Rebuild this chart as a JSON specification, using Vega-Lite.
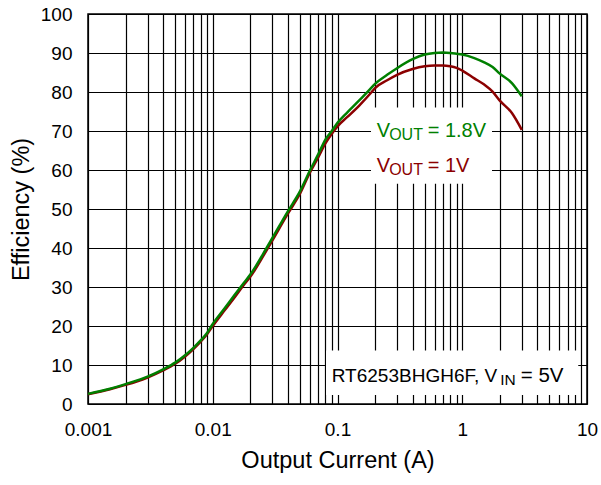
{
  "$schema": "https://vega.github.io/schema/vega-lite/v6.json",
  "width": 499,
  "height": 390,
  "autosize": "none",
  "padding": {"left": 88, "top": 14, "right": 14, "bottom": 81},
  "background": "white",
  "config": {
    "font": "Liberation Sans",
    "view": {"stroke": "black", "strokeWidth": 1.5},
    "axis": {
      "grid": true,
      "gridColor": "black",
      "gridOpacity": 1,
      "gridWidth": 1.2,
      "ticks": false,
      "domain": false,
      "labelFont": "Liberation Sans",
      "labelFontSize": 19,
      "labelColor": "black",
      "labelFlush": false,
      "labelOverlap": false,
      "titleFont": "Liberation Sans",
      "titleFontSize": 23.5,
      "titleFontWeight": "normal",
      "titleColor": "black"
    }
  },
  "datasets": {
    "curves": [
      {"current": 0.001, "efficiency": 2.5, "series": "1V"},
      {"current": 0.0015, "efficiency": 3.8, "series": "1V"},
      {"current": 0.002, "efficiency": 4.9, "series": "1V"},
      {"current": 0.003, "efficiency": 6.8, "series": "1V"},
      {"current": 0.004, "efficiency": 8.6, "series": "1V"},
      {"current": 0.005, "efficiency": 10.3, "series": "1V"},
      {"current": 0.006, "efficiency": 12.2, "series": "1V"},
      {"current": 0.007, "efficiency": 14.1, "series": "1V"},
      {"current": 0.008, "efficiency": 16.0, "series": "1V"},
      {"current": 0.009, "efficiency": 17.9, "series": "1V"},
      {"current": 0.01, "efficiency": 20.0, "series": "1V"},
      {"current": 0.0125, "efficiency": 24.1, "series": "1V"},
      {"current": 0.015, "efficiency": 27.4, "series": "1V"},
      {"current": 0.0176, "efficiency": 30.4, "series": "1V"},
      {"current": 0.02, "efficiency": 32.6, "series": "1V"},
      {"current": 0.027, "efficiency": 39.4, "series": "1V"},
      {"current": 0.03, "efficiency": 41.9, "series": "1V"},
      {"current": 0.04, "efficiency": 48.8, "series": "1V"},
      {"current": 0.05, "efficiency": 53.9, "series": "1V"},
      {"current": 0.06, "efficiency": 59.3, "series": "1V"},
      {"current": 0.07, "efficiency": 63.2, "series": "1V"},
      {"current": 0.08, "efficiency": 66.8, "series": "1V"},
      {"current": 0.09, "efficiency": 69.3, "series": "1V"},
      {"current": 0.1, "efficiency": 71.2, "series": "1V"},
      {"current": 0.12, "efficiency": 73.6, "series": "1V"},
      {"current": 0.15, "efficiency": 76.6, "series": "1V"},
      {"current": 0.188, "efficiency": 80.0, "series": "1V"},
      {"current": 0.2, "efficiency": 81.0, "series": "1V"},
      {"current": 0.25, "efficiency": 83.0, "series": "1V"},
      {"current": 0.3, "efficiency": 84.4, "series": "1V"},
      {"current": 0.4, "efficiency": 85.9, "series": "1V"},
      {"current": 0.5, "efficiency": 86.6, "series": "1V"},
      {"current": 0.6, "efficiency": 86.8, "series": "1V"},
      {"current": 0.7, "efficiency": 86.8, "series": "1V"},
      {"current": 0.8, "efficiency": 86.6, "series": "1V"},
      {"current": 0.9, "efficiency": 86.2, "series": "1V"},
      {"current": 1.0, "efficiency": 85.5, "series": "1V"},
      {"current": 1.25, "efficiency": 83.5, "series": "1V"},
      {"current": 1.5, "efficiency": 81.9, "series": "1V"},
      {"current": 1.75, "efficiency": 80.1, "series": "1V"},
      {"current": 2.0, "efficiency": 77.8, "series": "1V"},
      {"current": 2.5, "efficiency": 74.6, "series": "1V"},
      {"current": 3.0, "efficiency": 70.3, "series": "1V"},
      {"current": 0.001, "efficiency": 2.6, "series": "1.8V"},
      {"current": 0.0015, "efficiency": 3.9, "series": "1.8V"},
      {"current": 0.002, "efficiency": 5.1, "series": "1.8V"},
      {"current": 0.003, "efficiency": 7.0, "series": "1.8V"},
      {"current": 0.004, "efficiency": 8.9, "series": "1.8V"},
      {"current": 0.005, "efficiency": 10.6, "series": "1.8V"},
      {"current": 0.006, "efficiency": 12.5, "series": "1.8V"},
      {"current": 0.007, "efficiency": 14.4, "series": "1.8V"},
      {"current": 0.008, "efficiency": 16.3, "series": "1.8V"},
      {"current": 0.009, "efficiency": 18.2, "series": "1.8V"},
      {"current": 0.01, "efficiency": 20.5, "series": "1.8V"},
      {"current": 0.0125, "efficiency": 24.6, "series": "1.8V"},
      {"current": 0.015, "efficiency": 28.0, "series": "1.8V"},
      {"current": 0.0176, "efficiency": 30.9, "series": "1.8V"},
      {"current": 0.02, "efficiency": 33.2, "series": "1.8V"},
      {"current": 0.027, "efficiency": 40.0, "series": "1.8V"},
      {"current": 0.03, "efficiency": 42.5, "series": "1.8V"},
      {"current": 0.04, "efficiency": 49.4, "series": "1.8V"},
      {"current": 0.05, "efficiency": 54.5, "series": "1.8V"},
      {"current": 0.06, "efficiency": 59.8, "series": "1.8V"},
      {"current": 0.07, "efficiency": 64.0, "series": "1.8V"},
      {"current": 0.08, "efficiency": 67.8, "series": "1.8V"},
      {"current": 0.09, "efficiency": 70.0, "series": "1.8V"},
      {"current": 0.1, "efficiency": 72.1, "series": "1.8V"},
      {"current": 0.12, "efficiency": 74.8, "series": "1.8V"},
      {"current": 0.15, "efficiency": 77.9, "series": "1.8V"},
      {"current": 0.177, "efficiency": 80.3, "series": "1.8V"},
      {"current": 0.2, "efficiency": 82.1, "series": "1.8V"},
      {"current": 0.25, "efficiency": 84.4, "series": "1.8V"},
      {"current": 0.3, "efficiency": 86.1, "series": "1.8V"},
      {"current": 0.4, "efficiency": 88.4, "series": "1.8V"},
      {"current": 0.5, "efficiency": 89.6, "series": "1.8V"},
      {"current": 0.6, "efficiency": 90.0, "series": "1.8V"},
      {"current": 0.7, "efficiency": 90.1, "series": "1.8V"},
      {"current": 0.8, "efficiency": 90.0, "series": "1.8V"},
      {"current": 0.9, "efficiency": 89.8, "series": "1.8V"},
      {"current": 1.0, "efficiency": 89.6, "series": "1.8V"},
      {"current": 1.25, "efficiency": 88.7, "series": "1.8V"},
      {"current": 1.5, "efficiency": 87.6, "series": "1.8V"},
      {"current": 1.75, "efficiency": 86.4, "series": "1.8V"},
      {"current": 2.0, "efficiency": 84.7, "series": "1.8V"},
      {"current": 2.5, "efficiency": 82.3, "series": "1.8V"},
      {"current": 3.0, "efficiency": 78.9, "series": "1.8V"}
    ],
    "boxes": [
      {"x1": 0.1856, "x2": 1.732, "y1": 56.5, "y2": 76.0},
      {"x1": 0.0809, "x2": 8.51, "y1": 2.3, "y2": 13.7}
    ],
    "labels": [
      {"current": 0.206, "efficiency": 68.5, "series": "1.8V", "main": "V", "sub": "OUT", "rest": "= 1.8V"},
      {"current": 0.206, "efficiency": 59.6, "series": "1V", "main": "V", "sub": "OUT", "rest": "= 1V"},
      {"current": 0.0899, "efficiency": 5.7, "series": "note", "main": "RT6253BHGH6F, V", "sub": "IN", "rest": "= 5V"}
    ]
  },
  "encoding": {
    "x": {
      "field": "current",
      "type": "quantitative",
      "scale": {"type": "log", "domain": [0.001, 10], "nice": false},
      "axis": {
        "title": "Output Current (A)",
        "values": [0.001, 0.002, 0.003, 0.004, 0.005, 0.006, 0.007, 0.008, 0.009, 0.01, 0.02, 0.03, 0.04, 0.05, 0.06, 0.07, 0.08, 0.09, 0.1, 0.2, 0.3, 0.4, 0.5, 0.6, 0.7, 0.8, 0.9, 1, 2, 3, 4, 5, 6, 7, 8, 9, 10],
        "labelExpr": "datum.value === 0.001 ? '0.001' : datum.value === 0.01 ? '0.01' : datum.value === 0.1 ? '0.1' : datum.value === 1 ? '1' : datum.value === 10 ? '10' : ''",
        "labelPadding": 16,
        "titlePadding": 9
      }
    },
    "y": {
      "field": "efficiency",
      "type": "quantitative",
      "scale": {"domain": [0, 100], "nice": false},
      "axis": {
        "title": "Efficiency (%)",
        "values": [0, 10, 20, 30, 40, 50, 60, 70, 80, 90, 100],
        "labelPadding": 16,
        "titlePadding": 7
      }
    },
    "color": {
      "field": "series",
      "type": "nominal",
      "scale": {"domain": ["1V", "1.8V", "note"], "range": ["#8B0000", "#008000", "#000000"]},
      "legend": null
    }
  },
  "layer": [
    {
      "data": {"name": "boxes"},
      "mark": {"type": "rect", "fill": "white", "stroke": null},
      "encoding": {
        "x": {"field": "x1", "type": "quantitative"},
        "x2": {"field": "x2"},
        "y": {"field": "y1", "type": "quantitative"},
        "y2": {"field": "y2"},
        "color": {"value": "white"}
      }
    },
    {
      "data": {"name": "curves"},
      "transform": [{"filter": "datum.series === '1V'"}],
      "mark": {"type": "line", "strokeWidth": 2.5, "interpolate": "monotone"}
    },
    {
      "data": {"name": "curves"},
      "transform": [{"filter": "datum.series === '1.8V'"}],
      "mark": {"type": "line", "strokeWidth": 2.5, "interpolate": "monotone"}
    },
    {
      "data": {"name": "labels"},
      "transform": [{"filter": "datum.series !== 'note'"}],
      "mark": {"type": "text", "align": "left", "baseline": "alphabetic", "fontSize": 20},
      "encoding": {"text": {"field": "main"}}
    },
    {
      "data": {"name": "labels"},
      "transform": [{"filter": "datum.series !== 'note'"}],
      "mark": {"type": "text", "align": "left", "baseline": "alphabetic", "fontSize": 16, "dx": 12.5, "dy": 3},
      "encoding": {"text": {"field": "sub"}}
    },
    {
      "data": {"name": "labels"},
      "transform": [{"filter": "datum.series !== 'note'"}],
      "mark": {"type": "text", "align": "left", "baseline": "alphabetic", "fontSize": 20, "dx": 51},
      "encoding": {"text": {"field": "rest"}}
    },
    {
      "data": {"name": "labels"},
      "transform": [{"filter": "datum.series === 'note'"}],
      "mark": {"type": "text", "align": "left", "baseline": "alphabetic", "fontSize": 19},
      "encoding": {"text": {"field": "main"}}
    },
    {
      "data": {"name": "labels"},
      "transform": [{"filter": "datum.series === 'note'"}],
      "mark": {"type": "text", "align": "left", "baseline": "alphabetic", "fontSize": 15.5, "dx": 168.5, "dy": 3},
      "encoding": {"text": {"field": "sub"}}
    },
    {
      "data": {"name": "labels"},
      "transform": [{"filter": "datum.series === 'note'"}],
      "mark": {"type": "text", "align": "left", "baseline": "alphabetic", "fontSize": 20.5, "dx": 189},
      "encoding": {"text": {"field": "rest"}}
    }
  ]
}
